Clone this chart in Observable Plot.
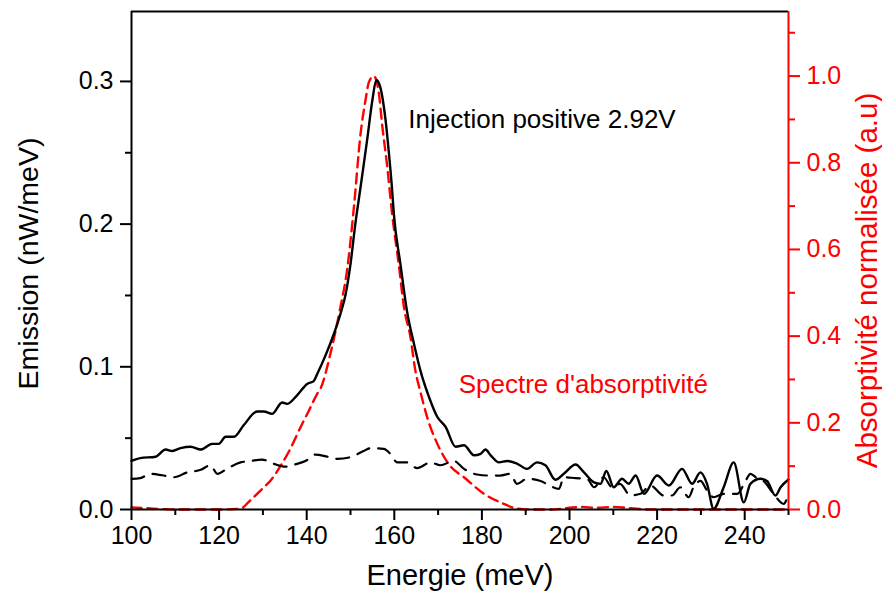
<!DOCTYPE html>
<html>
<head>
<meta charset="utf-8">
<script src="https://cdn.jsdelivr.net/npm/d3@7"></script>
<script src="https://cdn.jsdelivr.net/npm/@observablehq/plot@0.6"></script>
<style>
  html, body { margin: 0; padding: 0; background: #fff; }
  #chart svg { font-family: "Liberation Sans", Arial, sans-serif; }
</style>
</head>
<body>
<div id="chart"></div>
<script>
// Emission, positive injection 2.92 V (solid black, left axis, nW/meV)
const posX = [100,102,105.5,107.8,109.3,111.2,113.5,115.8,118.4,119.9,121.5,123.4,125.6,128.7,130.2,132.1,134.4,135.5,137.8,140.1,141.6,142.4,144.3,146.2,147.7,148.9,150,151.1,152.3,153.8,155,155.9,156.8,158,158.7,159.5,159.9,161.4,162.9,164.5,166,167.9,169.8,171.7,174,175.9,178.2,179.7,180.8,182,183.9,185.8,188.1,190.3,192.6,194.5,196.8,198.7,201.4,203.3,205.6,207.1,208.4,210.1,212,213.5,215.1,217,220,222.7,225.7,228,229.9,231.4,232.9,235.2,237.5,239.8,241.3,243.6,245.1,247,248.2,250];
const posY = [0.034,0.036,0.037,0.042,0.041,0.043,0.044,0.042,0.046,0.046,0.051,0.051,0.059,0.0687,0.0687,0.067,0.075,0.074,0.080,0.088,0.090,0.095,0.108,0.123,0.137,0.151,0.172,0.200,0.226,0.259,0.287,0.301,0.296,0.273,0.252,0.224,0.207,0.172,0.139,0.116,0.097,0.079,0.065,0.058,0.044,0.045,0.038,0.039,0.042,0.038,0.033,0.034,0.032,0.0285,0.033,0.031,0.0208,0.025,0.0315,0.026,0.019,0.018,0.027,0.0156,0.0215,0.018,0.0238,0.011,0.0238,0.0168,0.0285,0.018,0.026,0.018,0.0005,0.0156,0.033,0.005,0.018,0.0215,0.020,0.0098,0.0156,0.021];

// Emission, second measurement (dashed black, left axis)
const dashX = [100,102,104.3,107,109.7,112.7,115.8,118,119.6,122,124.9,127.2,129.8,132.5,135.2,137.8,139.7,142,144.7,147,150,153,154.6,157.6,159.1,160.7,162.9,165.2,168.3,170.5,173.6,175.9,178.9,181.6,184.2,186.5,188,190.3,193.4,195.3,197.6,198.7,201.4,204,205.6,207.8,209.7,211.5,213.9,216.2,218.5,221.5,223.4,225.3,227.2,228.3,229.9,231.4,232.9,235.2,238.3,240.2,241.3,242.8,244.3,246.6,248.9,250];
const dashY = [0.0215,0.022,0.025,0.024,0.0226,0.026,0.0278,0.031,0.025,0.029,0.033,0.034,0.035,0.032,0.030,0.032,0.034,0.0385,0.037,0.0355,0.0367,0.041,0.043,0.0425,0.039,0.033,0.033,0.029,0.033,0.031,0.034,0.0285,0.0245,0.0238,0.0238,0.025,0.018,0.0215,0.020,0.017,0.0145,0.0226,0.022,0.0215,0.0156,0.0226,0.0156,0.018,0.0098,0.011,0.0168,0.0098,0.0098,0.0156,0.0086,0.0156,0.020,0.0133,0.0086,0.011,0.011,0.020,0.025,0.022,0.020,0.011,0.004,0.011];

// Normalised absorptivity (dashed red, right axis, a.u.)
const absX = [100,105,110,115,120,124.9,127,129.5,132,134,136,138.6,140.5,142.4,143.2,145.4,147.7,149.2,150.8,152.3,153.4,154.2,155.3,156.5,157.2,158.4,159.5,161,162.2,163.7,164.8,166,167.5,169.8,172.8,175.9,180.5,185,188.1,192,196,200,203,206,210,214,218,225,235,245,250];
const absY = [0.005,0.002,0,0,0,0.002,0.02,0.044,0.07,0.10,0.135,0.19,0.228,0.267,0.28,0.359,0.467,0.551,0.70,0.867,0.943,0.986,1.0,0.959,0.89,0.79,0.682,0.567,0.467,0.397,0.321,0.27,0.213,0.152,0.10,0.0745,0.036,0.013,0.002,0,0,0.004,0.006,0.004,0.006,0.003,0,0,0,0,0];

// Axes
const xTicks = [100,120,140,160,180,200,220,240];
const xMinor = [110,130,150,170,190,210,230,250];
const yLeftTicks = [0,0.1,0.2,0.3];
const yLeftMinor = [0.05,0.15,0.25];
const yRightTicks = [0,0.2,0.4,0.6,0.8,1.0];
const yRightMinor = [0.1,0.3,0.5,0.7,0.9,1.1];
const xDomain = [100,250];
const yLeftMax = 0.349;
const yRightMax = 1.149;

// Texts
const xTitle = "Energie (meV)";
const yLeftTitle = "Emission (nW/meV)";
const yRightTitle = "Absorptivité normalisée (a.u)";
const notes = [
  {x: 163.2, y: 0.2735, text: "Injection positive 2.92V", color: "black"},
  {x: 174.7, y: 0.0878, text: "Spectre d'absorptivité", color: "red"}
];

const K = yLeftMax / yRightMax; // right-axis value -> left-axis value
const pos = posX.map((x, i) => ({x, y: posY[i]}));
const dsh = dashX.map((x, i) => ({x, y: dashY[i]}));
const abs = absX.map((x, i) => ({x, y: absY[i] * K}));

const tickFont = 25;
const chart = Plot.plot({
  width: 882,
  height: 600,
  marginLeft: 131,
  marginRight: 94,
  marginTop: 11,
  marginBottom: 91,
  style: {fontFamily: "Liberation Sans, Arial, sans-serif", background: "white"},
  x: {domain: xDomain, axis: null},
  y: {domain: [0, yLeftMax], axis: null},
  marks: [
    Plot.line(abs, {x: "x", y: "y", stroke: "red", strokeWidth: 2.4, strokeDasharray: "10,6", curve: "monotone-x"}),
    Plot.line(dsh, {x: "x", y: "y", stroke: "black", strokeWidth: 2.2, strokeDasharray: "13,9", curve: "monotone-x"}),
    Plot.line(pos, {x: "x", y: "y", stroke: "black", strokeWidth: 2.4, curve: "monotone-x"}),
    Plot.ruleY([yLeftMax], {stroke: "black", strokeWidth: 2}),
    Plot.ruleY([0], {stroke: "black", strokeWidth: 2}),
    Plot.ruleX([xDomain[0]], {stroke: "black", strokeWidth: 2}),
    Plot.ruleX([xDomain[1]], {stroke: "red", strokeWidth: 2}),
    Plot.axisX(xTicks, {tickSize: 11, tickPadding: 6, fontSize: tickFont, strokeWidth: 2, label: null}),
    Plot.axisX(xMinor, {tickSize: 6, tickFormat: () => "", strokeWidth: 2, label: null}),
    Plot.axisY(yLeftTicks, {anchor: "left", tickSize: 11, tickPadding: 7, tickFormat: d3.format(".1f"), fontSize: tickFont, strokeWidth: 2, label: null}),
    Plot.axisY(yLeftMinor, {anchor: "left", tickSize: 6, tickFormat: () => "", strokeWidth: 2, label: null}),
    Plot.axisY(yRightTicks.map(v => v * K), {anchor: "right", tickSize: 11, tickPadding: 7, tickFormat: d => (d / K).toFixed(1), fontSize: tickFont, strokeWidth: 2, color: "red", label: null}),
    Plot.axisY(yRightMinor.map(v => v * K), {anchor: "right", tickSize: 6, tickFormat: () => "", strokeWidth: 2, color: "red", label: null}),
    Plot.text([xTitle], {text: d => d, frameAnchor: "bottom", textAnchor: "middle", dy: 75, fontSize: 29, fill: "black"}),
    Plot.text([yLeftTitle], {text: d => d, frameAnchor: "left", textAnchor: "middle", dx: -103, dy: 3, rotate: -90, fontSize: 28.5, fill: "black"}),
    Plot.text([yRightTitle], {text: d => d, frameAnchor: "right", textAnchor: "middle", dx: 79, dy: 20, rotate: -90, fontSize: 29.5, fill: "red"}),
    Plot.text(notes, {x: "x", y: "y", text: "text", fill: "color", textAnchor: "start", fontSize: 26})
  ]
});
document.getElementById("chart").appendChild(chart);
</script>
</body>
</html>
